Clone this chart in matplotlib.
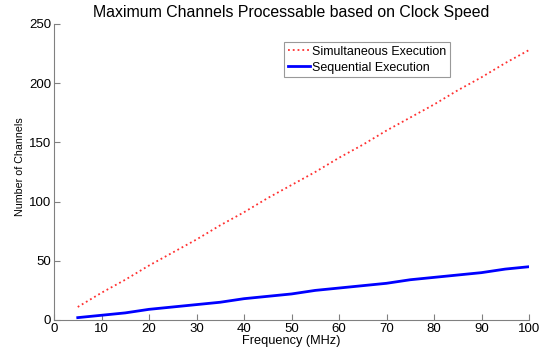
import matplotlib
matplotlib.use("Agg")
import matplotlib.pyplot as plt

# Frequency (MHz)
freq = [5, 10, 15, 20, 25, 30, 35, 40, 45, 50, 55, 60, 65, 70, 75, 80, 85, 90, 95, 100]
# channel counts
simultaneous = [11, 23, 34, 46, 57, 68, 80, 91, 103, 114, 125, 137, 148, 160, 171, 182, 194, 205, 217, 228]
sequential = [2, 4, 6, 9, 11, 13, 15, 18, 20, 22, 25, 27, 29, 31, 34, 36, 38, 40, 43, 45]

plt.rcParams['font.family'] = ['Liberation Sans', 'DejaVu Sans']

fig = plt.figure(figsize=(5.53, 3.5), dpi=100)
ax = fig.add_axes([54 / 553, 30 / 350, 475 / 553, 296 / 350])

ax.plot(freq, simultaneous, color='#ff3030', linestyle=':', linewidth=1.3,
        label='Simultaneous Execution')
ax.plot(freq, sequential, color='#0000ff', linestyle='-', linewidth=2,
        label='Sequential Execution')

ax.set_xlim(0, 100)
ax.set_ylim(0, 250)
ax.set_xticks(range(0, 101, 10))
ax.set_yticks(range(0, 251, 50))

for side in ('top', 'right'):
    ax.spines[side].set_visible(False)
for side in ('left', 'bottom'):
    ax.spines[side].set_color('#808080')
ax.tick_params(direction='in', length=4, color='#808080', labelsize=9.5, pad=2)

ax.set_xlabel('Frequency (MHz)', fontsize=9.2, labelpad=0.5)
ax.set_ylabel('Number of Channels', fontsize=7.7)
ax.yaxis.set_label_coords(-0.061, 0.517)
ax.set_title('Maximum Channels Processable based on Clock Speed', fontsize=11.4, pad=5)

leg = ax.legend(loc='upper left', bbox_to_anchor=(284 / 553, 1 - 42 / 350),
                bbox_transform=fig.transFigure, fontsize=9, fancybox=False,
                borderpad=0.3, handlelength=1.8, handletextpad=0.1,
                labelspacing=0.3, borderaxespad=0)
leg.get_frame().set_edgecolor('#808080')
leg.get_frame().set_linewidth(0.8)

fig.savefig('out.png', dpi=100)
